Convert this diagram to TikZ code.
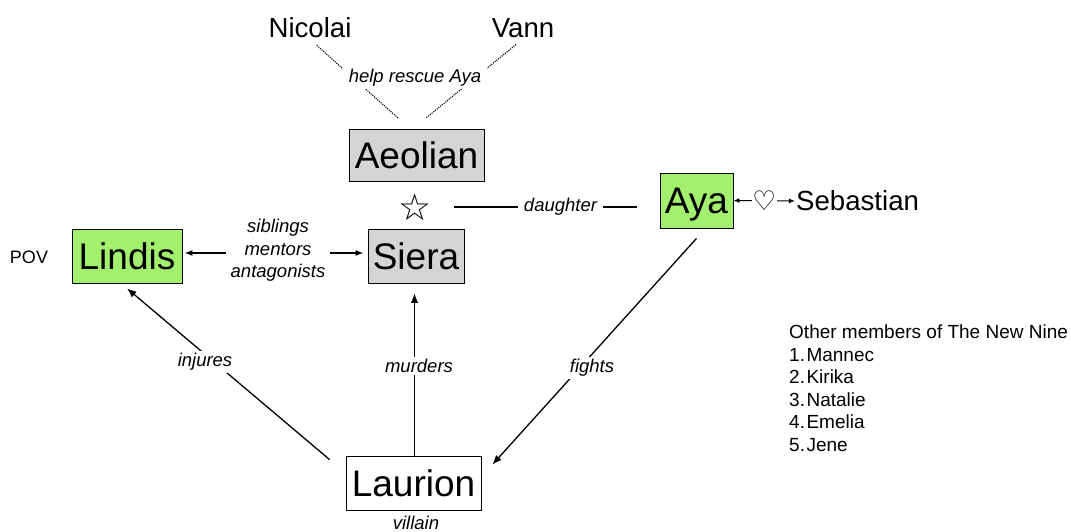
\documentclass[tikz,border=0pt]{standalone}
\usepackage{fontspec}
\setmainfont{Liberation Sans}
\newfontfamily\symfont{DejaVu Sans}
\usetikzlibrary{arrows.meta}
\definecolor{boxgreen}{RGB}{163,240,111}
\definecolor{boxgray}{RGB}{212,212,212}
\begin{document}
\begin{tikzpicture}[x=1pt,y=-1pt,
  box/.style={draw, line width=0.8pt, font=\fontsize{37}{40}\selectfont, inner sep=0pt, text height=26.5pt, text depth=0pt},
  person/.style={font=\fontsize{27.6}{30}\selectfont, inner sep=1pt},
  lbl/.style={font=\itshape\fontsize{18.5}{22.5}\selectfont, fill=white, inner xsep=6pt, inner ysep=2pt},
  conn/.style={line width=1.3pt},
  tip/.style={-{Latex[length=9.5pt,width=7.5pt]}},
  arr/.style={conn, tip},
  dots/.style={line width=1.1pt, dash pattern=on 1.1pt off 1.1pt},
]
\useasboundingbox (0,0) rectangle (1071,532);

% nodes
\node[person] (nicolai) at (310,28) {Nicolai};
\node[person] (vann) at (523,28) {Vann};
\node[box, fill=boxgray, minimum width=135pt, minimum height=52pt] (aeolian) at (416.5,155) {Aeolian};
\node[font=\symfont\fontsize{37}{37}\selectfont, inner sep=0pt] (star) at (415,207) {☆};
\node[box, fill=boxgray, minimum width=96pt, minimum height=54pt] (siera) at (416,256) {Siera};
\node[box, fill=boxgreen, minimum width=110pt, minimum height=54pt] (lindis) at (127,256) {Lindis};
\node[box, fill=boxgreen, minimum width=73pt, minimum height=55pt] (aya) at (696.5,200.5) {Aya};
\node[person, anchor=west] (sebastian) at (795,201) {Sebastian};
\node[box, fill=white, minimum width=135pt, minimum height=54pt] (laurion) at (413.5,483) {Laurion};
\node[font=\itshape\fontsize{18.5}{20}\selectfont] (villain) at (416,522.5) {villain};
\node[font=\fontsize{18}{20}\selectfont] (pov) at (29,257) {POV};

% dotted rescue lines
\coordinate (d1) at (398,118);
\coordinate (d2) at (426,118);
\draw[dots, shorten <=9pt] (nicolai.south) -- (d1);
\draw[dots, shorten <=9pt] (vann.south) -- (d2);
\node[lbl] (rescue) at (415,78) {help rescue Aya};

% daughter
\draw[conn, shorten <=22pt, shorten >=23pt] (star.east) -- (star.east -| aya.west)
  node[lbl, pos=0.565] (daughter) {daughter};

% love
\draw[line width=1.1pt, {Latex[length=6pt,width=5pt]}-{Latex[length=6pt,width=5pt]}] (aya.east) -- (sebastian.west)
  node[midway, fill=white, inner sep=0.5pt, font=\symfont\fontsize{27}{27}\selectfont] (heart) {♡};

% siblings
\draw[conn, {Latex[length=8pt,width=6pt]}-{Latex[length=8pt,width=6pt]}, shorten <=2pt, shorten >=4pt]
  ([yshift=3pt]lindis.east) -- ([yshift=3pt]siera.west);
\node[lbl, align=center, inner xsep=5pt] (sib) at (278,250.5) {siblings\\mentors\\antagonists};

% injures
\draw[arr] ([xshift=-16pt,yshift=-4pt]laurion.north west) -- ([yshift=-5pt]lindis.south);
\node[lbl] (injures) at (205,362) {injures};

% murders
\draw[arr, shorten >=10pt] ([xshift=1pt]laurion.north) -- ([xshift=-1.5pt]siera.south);
\node[lbl, inner xsep=4pt] (murders) at (419,366) {murders};

% fights
\draw[arr] ([yshift=-10pt]aya.south) -- ([xshift=11pt,yshift=-9pt]laurion.north east);
\node[lbl] (fights) at (592,368) {fights};

% legend
\node[anchor=north west, align=left, inner sep=0pt, font=\fontsize{19}{22.5}\selectfont] (legend) at (789,325)
  {Other members of The New Nine\\1.\hspace{1.5pt}Mannec\\2.\hspace{1.5pt}Kirika\\3.\hspace{1.5pt}Natalie\\4.\hspace{1.5pt}Emelia\\5.\hspace{1.5pt}Jene};
\end{tikzpicture}
\end{document}
